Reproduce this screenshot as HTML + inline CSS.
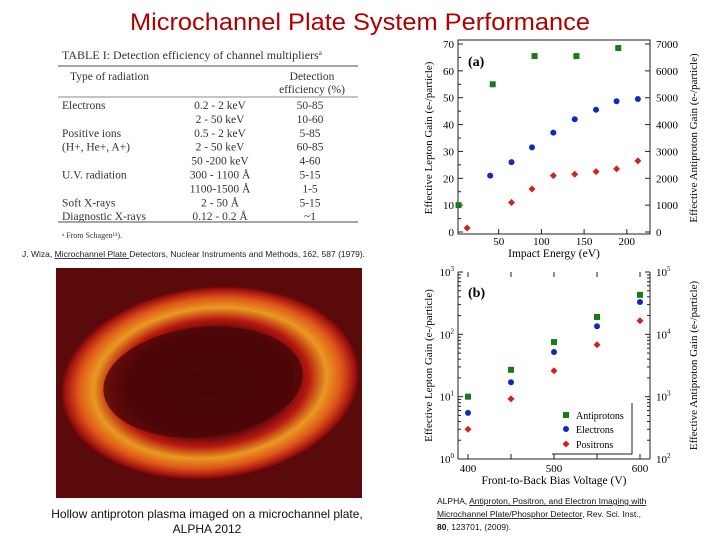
<!DOCTYPE html>
<html><head><meta charset="utf-8"><style>
body{margin:0;width:720px;height:540px;background:#fff;overflow:hidden;font-family:"Liberation Sans",sans-serif}
svg text{font-family:"Liberation Serif",serif}
</style></head><body>
<svg width="720" height="540" viewBox="0 0 720 540">
<defs>
<radialGradient id="ring" cx="50%" cy="50%" r="50%">
<stop offset="0" stop-color="#4a0608"/><stop offset="0.55" stop-color="#5a080a"/>
<stop offset="0.66" stop-color="#b81810"/><stop offset="0.78" stop-color="#e89a22"/>
<stop offset="0.88" stop-color="#e05818"/><stop offset="0.97" stop-color="#a01010"/><stop offset="1" stop-color="#5a0808"/>
</radialGradient>
</defs>
<text x="360" y="30" text-anchor="middle" font-size="24" fill="#b00000" textLength="460" lengthAdjust="spacingAndGlyphs" style="font-family:'Liberation Sans',sans-serif">Microchannel Plate System Performance</text>

<g font-size="11.5" fill="#333">
<text x="62" y="59" font-size="12">TABLE I: Detection efficiency of channel multipliers<tspan font-size="7" dy="-4">a</tspan></text>
<line x1="58" y1="66" x2="358" y2="66" stroke="#888" stroke-width="1.5"/>
<text x="70" y="80">Type of radiation</text>
<text x="312" y="80" text-anchor="middle">Detection</text>
<text x="312" y="93" text-anchor="middle">efficiency (%)</text>
<line x1="58" y1="97" x2="358" y2="97" stroke="#888"/>
<g id="rows"></g>
<line x1="58" y1="222" x2="358" y2="222" stroke="#888" stroke-width="1.5"/>
<text x="62" y="238" font-size="8">ᵃ From Schagen¹¹).</text>
</g>
<text x="22" y="257" font-size="8.5" fill="#222" style="font-family:'Liberation Sans',sans-serif">J. Wiza, <tspan text-decoration="underline">Microchannel Plate </tspan>Detectors, Nuclear Instruments and Methods, 162, 587 (1979).</text>

<g>
<rect x="56" y="268" width="306" height="230" fill="#5a0a0a"/>
<ellipse cx="210" cy="383" rx="150" ry="96" transform="rotate(-6 210 383)" fill="url(#ring)"/>
<ellipse cx="203" cy="382" rx="100" ry="55" transform="rotate(-6 203 382)" fill="#4a0608" opacity="0.8"/>
</g>
<text x="207" y="518" text-anchor="middle" font-size="12" fill="#111" style="font-family:'Liberation Sans',sans-serif">Hollow antiproton plasma imaged on a microchannel plate,</text>
<text x="207" y="533" text-anchor="middle" font-size="12" fill="#111" style="font-family:'Liberation Sans',sans-serif">ALPHA 2012</text>

<g id="chartA"></g>
<g id="chartB"></g>

<g font-size="8.5" fill="#111">
<text x="437" y="504" style="font-family:'Liberation Sans',sans-serif">ALPHA, <tspan text-decoration="underline">Antiproton, Positron, and Electron Imaging with</tspan></text>
<text x="437" y="517" style="font-family:'Liberation Sans',sans-serif"><tspan text-decoration="underline"> Microchannel Plate/Phosphor Detector</tspan>, Rev. Sci. Inst.,</text>
<text x="437" y="530" style="font-family:'Liberation Sans',sans-serif"><tspan font-weight="bold">80</tspan>, 123701, (2009).</text>
</g>
</svg>
<script>
const NS="http://www.w3.org/2000/svg";
function mk(p,t,a,txt){const e=document.createElementNS(NS,t);for(const k in a)e.setAttribute(k,a[k]);if(txt!=null)e.textContent=txt;p.appendChild(e);return e;}

const tRad=["Electrons","","Positive ions","(H+, He+, A+)","","U.V. radiation","","Soft X-rays","Diagnostic X-rays"];
const tRange=["0.2 - 2 keV","2 - 50 keV","0.5 - 2 keV","2 - 50 keV","50 -200 keV","300 - 1100 Å","1100-1500 Å","2 - 50 Å","0.12 - 0.2 Å"];
const tEff=["50-85","10-60","5-85","60-85","4-60","5-15","1-5","5-15","~1"];
const rows=document.getElementById('rows');
tRad.forEach((r,i)=>{const y=109+i*13.9;
 let e=mk(rows,'text',{x:62,y:y},r);
 e=mk(rows,'text',{x:220,y:y,'text-anchor':'middle'},tRange[i]);
 e=mk(rows,'text',{x:310,y:y,'text-anchor':'middle'},tEff[i]);});

const aGreenX=[3,43,92,141,190], aGreenY=[10,55,65.5,65.5,68.5];
const aBlueX=[40,65,89,114,139,164,188,213], aBlueY=[21,26,31.5,37,42,45.5,48.7,49.5];
const aRedX=[13,65,89,114,139,164,188,213], aRedY=[1.5,11,16,21,21.5,22.5,23.5,26.5];
const aXTicks=[50,100,150,200], aYTicks=[0,10,20,30,40,50,60,70], aY2Ticks=[0,1000,2000,3000,4000,5000,6000,7000];
const bX=[400,450,500,550,600];
const bGreen=[10,27,75,190,430], bBlue=[5.5,17,52,135,330], bRed=[3,9.2,26,68,165];
const bXTicks=[400,500,600];

function marker(g,kind,x,y,name){let e;
 if(kind==='sq') e=mk(g,'rect',{x:x-3,y:y-3,width:6,height:6,fill:'#1a7a1a'});
 else if(kind==='ci') e=mk(g,'circle',{cx:x,cy:y,r:3,fill:'#1428c0'});
 else e=mk(g,'path',{d:`M${x-3.5},${y}L${x},${y-3.5}L${x+3.5},${y}L${x},${y+3.5}Z`,fill:'#d42020'});
 }

(function(){const g=document.getElementById('chartA');
 const L=458,R=650,T=44,B=232;
 const xs=v=>456+(v)*42.7/50, ys=v=>B-(v/70)*(B-T);
 mk(g,'rect',{x:L,y:T-4,width:R-L,height:B-T+6,fill:'none',stroke:'#222'});
 aYTicks.forEach(v=>{mk(g,'line',{x1:L,x2:L+5,y1:ys(v),y2:ys(v),stroke:'#222'});if(v<70)mk(g,'line',{x1:L,x2:L+3,y1:ys(v+5),y2:ys(v+5),stroke:'#222'});
  mk(g,'text',{x:L-4,y:ys(v)+4,'text-anchor':'end','font-size':11},v);});
 aY2Ticks.forEach(v=>{mk(g,'line',{x1:R-5,x2:R,y1:ys(v/100),y2:ys(v/100),stroke:'#222'});
  mk(g,'text',{x:R+6,y:ys(v/100)+4,'font-size':11},v);});
 aXTicks.forEach(v=>{mk(g,'line',{x1:xs(v),x2:xs(v),y1:B+2,y2:B-3,stroke:'#222'});
  mk(g,'text',{x:xs(v),y:B+13,'text-anchor':'middle','font-size':11},v);});
 mk(g,'text',{x:554,y:257,'text-anchor':'middle','font-size':11.5},'Impact Energy (eV)');
 mk(g,'text',{x:0,y:0,'text-anchor':'middle','font-size':11,transform:`translate(432,${(T+B)/2}) rotate(-90)`},'Effective Lepton Gain (e-/particle)');
 mk(g,'text',{x:0,y:0,'text-anchor':'middle','font-size':11,transform:`translate(697,${(T+B)/2}) rotate(-90)`},'Effective Antiproton Gain (e-/particle)');
 mk(g,'text',{x:468,y:66,'font-size':14,'font-weight':'bold'},'(a)');
 aGreenX.forEach((x,i)=>marker(g,'sq',xs(x),ys(aGreenY[i]),'antiproton-point-a'));
 aBlueX.forEach((x,i)=>marker(g,'ci',xs(x),ys(aBlueY[i]),'electron-point-a'));
 aRedX.forEach((x,i)=>marker(g,'di',xs(x),ys(aRedY[i]),'positron-point-a'));
})();

(function(){const g=document.getElementById('chartB');
 const L=458,R=650,T=272,B=459;
 const xs=v=>468+(v-400)*(640-468)/200, ys=v=>B-Math.log10(v)/3*(B-T);
 mk(g,'line',{x1:L,x2:L,y1:T,y2:B,stroke:'#222'});mk(g,'line',{x1:L,x2:R,y1:B,y2:B,stroke:'#222'});
 mk(g,'line',{x1:R,x2:R,y1:T,y2:B,stroke:'#222'});
 [0,1,2,3].forEach(p=>{const y=ys(Math.pow(10,p));
  mk(g,'line',{x1:L,x2:L+5,y1:y,y2:y,stroke:'#222'});mk(g,'line',{x1:R-5,x2:R,y1:y,y2:y,stroke:'#222'});
  const t=mk(g,'text',{x:L-4,y:y+4,'text-anchor':'end','font-size':11},'10');mk(t,'tspan',{'font-size':7,dy:-5},p);
  const t2=mk(g,'text',{x:R+6,y:y+4,'font-size':11},'10');mk(t2,'tspan',{'font-size':7,dy:-5},p+2);
  if(p<3)for(let k=2;k<10;k++){const yy=ys(k*Math.pow(10,p));mk(g,'line',{x1:L,x2:L+3,y1:yy,y2:yy,stroke:'#222'});mk(g,'line',{x1:R-3,x2:R,y1:yy,y2:yy,stroke:'#222'});}});
 bX.forEach(v=>{mk(g,'line',{x1:xs(v),x2:xs(v),y1:B,y2:B-5,stroke:'#222'});mk(g,'line',{x1:xs(v),x2:xs(v),y1:T,y2:T+5,stroke:'#222'});});
 bXTicks.forEach(v=>mk(g,'text',{x:xs(v),y:B+13,'text-anchor':'middle','font-size':11},v));
 mk(g,'text',{x:554,y:484,'text-anchor':'middle','font-size':11.5},'Front-to-Back Bias Voltage (V)');
 mk(g,'text',{x:0,y:0,'text-anchor':'middle','font-size':11,transform:`translate(432,${(T+B)/2}) rotate(-90)`},'Effective Lepton Gain (e-/particle)');
 mk(g,'text',{x:0,y:0,'text-anchor':'middle','font-size':11,transform:`translate(697,${(T+B)/2}) rotate(-90)`},'Effective Antiproton Gain (e-/particle)');
 mk(g,'text',{x:468,y:297,'font-size':14,'font-weight':'bold'},'(b)');
 mk(g,'path',{d:'M632,403V454H552',fill:'none',stroke:'#222'});
 const lg=[['sq','Antiprotons',415],['ci','Electrons',429],['di','Positrons',444]];
 lg.forEach(l=>{marker(g,l[0],566,l[2],'legend-marker');const t=mk(g,'text',{x:576,y:l[2]+4,'font-size':10},l[1]);});
 bX.forEach((x,i)=>{marker(g,'sq',xs(x),ys(bGreen[i]),'antiproton-point-b');marker(g,'ci',xs(x),ys(bBlue[i]),'electron-point-b');marker(g,'di',xs(x),ys(bRed[i]),'positron-point-b');});
})();
</script>
</body></html>
